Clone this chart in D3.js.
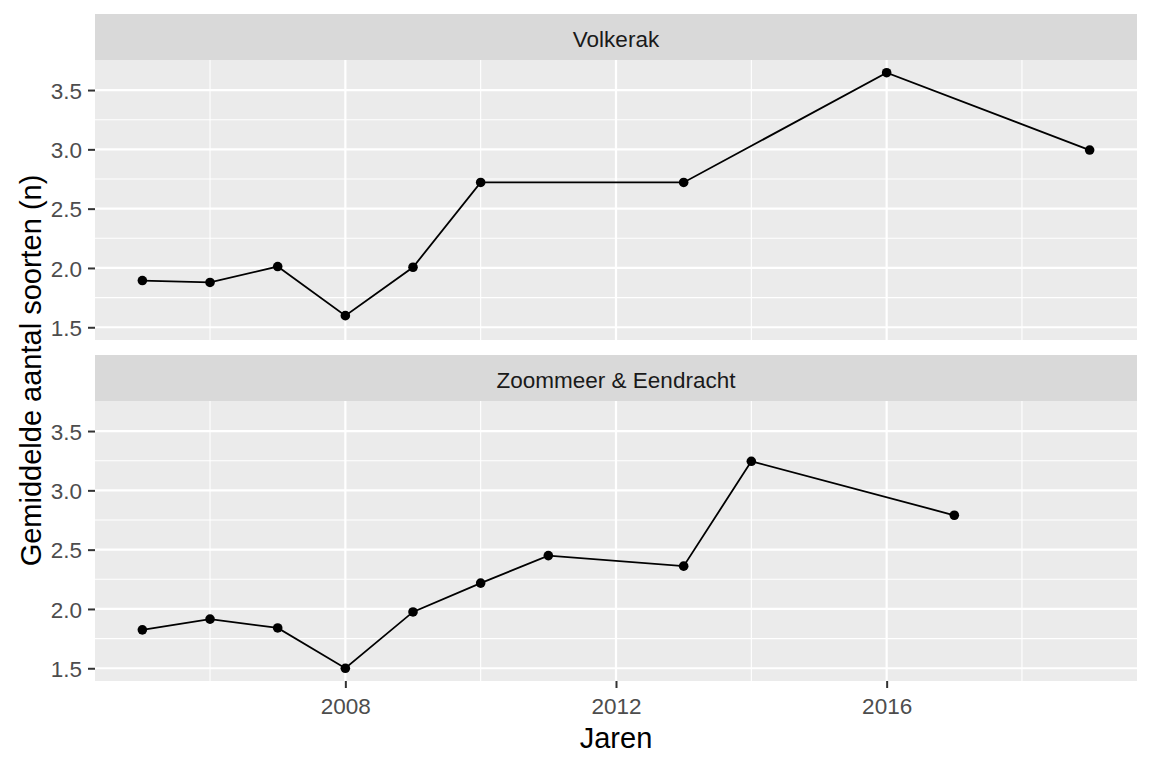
<!DOCTYPE html>
<html>
<head>
<meta charset="utf-8">
<script src="https://cdn.jsdelivr.net/npm/d3@7"></script>
<style>
  html, body { margin: 0; padding: 0; background: #fff; }
  svg { display: block; font-family: "Liberation Sans", Arial, sans-serif; }
</style>
</head>
<body>
<svg id="chart" width="1152" height="768"></svg>
<script>
// ---- data ----
const facets = ["Volkerak", "Zoommeer & Eendracht"];
const volkerakYears = [2005, 2006, 2007, 2008, 2009, 2010, 2013, 2016, 2019];
const volkerakValues = [1.894, 1.878, 2.012, 1.598, 2.006, 2.721, 2.721, 3.646, 2.994];
const zoommeerYears = [2005, 2006, 2007, 2008, 2009, 2010, 2011, 2013, 2014, 2017];
const zoommeerValues = [1.824, 1.914, 1.840, 1.500, 1.975, 2.218, 2.450, 2.361, 3.245, 2.790];
const xTicks = [2008, 2012, 2016];
const xMinor = [2006, 2010, 2014, 2018];
const yTicks = [1.5, 2.0, 2.5, 3.0, 3.5];
const yMinor = [1.75, 2.25, 2.75, 3.25];
const xTitle = "Jaren";
const yTitle = "Gemiddelde aantal soorten (n)";

const series = [
  { name: facets[0], pts: volkerakYears.map((y, i) => ({ x: y, v: volkerakValues[i] })) },
  { name: facets[1], pts: zoommeerYears.map((y, i) => ({ x: y, v: zoommeerValues[i] })) }
];

// ---- layout ----
const svg = d3.select("#chart");
const left = 95, right = 1137;
const panels = [
  { stripTop: 14, top: 60, bottom: 340 },
  { stripTop: 355, top: 401, bottom: 681 }
];

const allX = volkerakYears.concat(zoommeerYears);
const allV = volkerakValues.concat(zoommeerValues);
const [xmin, xmax] = d3.extent(allX);
const [vmin, vmax] = d3.extent(allV);
const xe = (xmax - xmin) * 0.05, ve = (vmax - vmin) * 0.05;

const x = d3.scaleLinear().domain([xmin - xe, xmax + xe]).range([left, right]);

const tickColor = "#333333";
const tickText = "#4D4D4D";

series.forEach((s, i) => {
  const p = panels[i];
  const y = d3.scaleLinear().domain([vmin - ve, vmax + ve]).range([p.bottom, p.top]);
  const g = svg.append("g");

  // strip
  g.append("rect").attr("x", left).attr("y", p.stripTop)
    .attr("width", right - left).attr("height", p.top - p.stripTop)
    .attr("fill", "#D9D9D9");
  g.append("text").attr("x", (left + right) / 2).attr("y", (p.stripTop + p.top) / 2 + 10)
    .attr("text-anchor", "middle").attr("font-size", 22.5).attr("fill", "#1A1A1A")
    .text(s.name);

  // panel background
  g.append("rect").attr("x", left).attr("y", p.top)
    .attr("width", right - left).attr("height", p.bottom - p.top)
    .attr("fill", "#EBEBEB");

  // minor grid
  g.selectAll(".ymin").data(yMinor).join("line")
    .attr("x1", left).attr("x2", right)
    .attr("y1", d => y(d)).attr("y2", d => y(d))
    .attr("stroke", "#fff").attr("stroke-width", 1.1);
  g.selectAll(".xmin").data(xMinor).join("line")
    .attr("y1", p.top).attr("y2", p.bottom)
    .attr("x1", d => x(d)).attr("x2", d => x(d))
    .attr("stroke", "#fff").attr("stroke-width", 1.1);
  // major grid
  g.selectAll(".ymaj").data(yTicks).join("line")
    .attr("x1", left).attr("x2", right)
    .attr("y1", d => y(d)).attr("y2", d => y(d))
    .attr("stroke", "#fff").attr("stroke-width", 2.2);
  g.selectAll(".xmaj").data(xTicks).join("line")
    .attr("y1", p.top).attr("y2", p.bottom)
    .attr("x1", d => x(d)).attr("x2", d => x(d))
    .attr("stroke", "#fff").attr("stroke-width", 2.2);

  // y axis
  const yAxis = d3.axisLeft(y).tickValues(yTicks).tickFormat(d3.format(".1f"))
    .tickSize(7).tickPadding(6);
  const ya = g.append("g").attr("transform", `translate(${left},0)`).call(yAxis);
  ya.select(".domain").remove();
  ya.selectAll(".tick line").attr("stroke", tickColor).attr("stroke-width", 2);
  ya.selectAll(".tick text").attr("fill", tickText).attr("font-size", 22.5)
    .attr("font-family", "Liberation Sans, Arial, sans-serif").attr("dy", "0.36em");

  // line + points
  const line = d3.line().x(d => x(d.x)).y(d => y(d.v));
  g.append("path").datum(s.pts).attr("d", line)
    .attr("fill", "none").attr("stroke", "#000").attr("stroke-width", 1.8);
  g.selectAll(".pt").data(s.pts).join("circle")
    .attr("cx", d => x(d.x)).attr("cy", d => y(d.v)).attr("r", 4.8)
    .attr("fill", "#000");

  // x axis on bottom panel
  if (i === series.length - 1) {
    const xAxis = d3.axisBottom(x).tickValues(xTicks).tickFormat(d3.format("d"))
      .tickSize(7).tickPadding(6);
    const xa = g.append("g").attr("transform", `translate(0,${p.bottom})`).call(xAxis);
    xa.select(".domain").remove();
    xa.selectAll(".tick line").attr("stroke", tickColor).attr("stroke-width", 2);
    xa.selectAll(".tick text").attr("fill", tickText).attr("font-size", 22.5)
      .attr("font-family", "Liberation Sans, Arial, sans-serif").attr("dy", null).attr("y", 33);
  }
});

// axis titles
svg.append("text").attr("x", (left + right) / 2).attr("y", 748)
  .attr("text-anchor", "middle").attr("font-size", 29).attr("fill", "#000").text(xTitle);
svg.append("text")
  .attr("transform", `translate(41,${(panels[0].top + panels[1].bottom) / 2}) rotate(-90)`)
  .attr("text-anchor", "middle").attr("font-size", 29).attr("fill", "#000").text(yTitle);
</script>
</body>
</html>
